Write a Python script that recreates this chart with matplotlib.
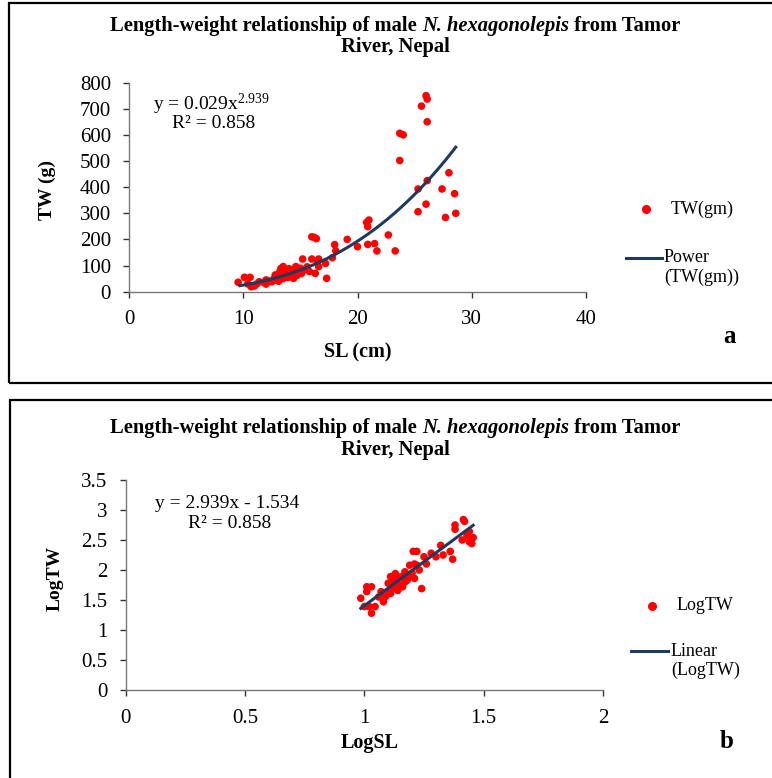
import numpy as np
import matplotlib
matplotlib.use("Agg")
import matplotlib.pyplot as plt
from matplotlib.lines import Line2D
from matplotlib.patches import Rectangle

# ---------------- data ----------------
sl_cm = [9.55, 10.1, 10.4, 10.6, 10.7, 11.0, 11.2, 11.4, 11.8, 12.0, 12.0, 12.3, 12.5, 12.7,
         12.8, 12.9, 13.0, 13.1, 13.2, 13.3, 13.4, 13.5, 13.5, 13.6, 13.7, 13.8, 13.9, 14.0,
         14.1, 14.2, 14.4, 14.5, 14.6, 14.7, 14.9, 15.0, 15.1, 15.2, 15.4, 15.6, 15.8, 16.0,
         16.0, 16.2, 16.3, 16.4, 16.5, 16.6, 16.6, 17.2, 17.3, 17.8, 18.0, 18.1, 19.1, 20.0,
         20.8, 20.9, 21.0, 20.9, 21.5, 21.7, 22.7, 23.3, 23.7, 23.7, 24.0, 25.3, 25.3, 26.0,
         26.1, 25.6, 26.0, 26.1, 26.1, 27.4, 27.7, 28.0, 28.5, 28.6]
tw_g = [36, 55, 30, 55, 19, 22, 30, 38, 35, 45, 29, 40, 38, 50,
        64, 45, 55, 40, 77, 89, 60, 96, 50, 83, 65, 70, 55, 88,
        57, 75, 51, 80, 96, 62, 70, 90, 70, 125, 85, 95, 77, 210,
        125, 208, 70, 203, 115, 125, 96, 108, 51, 130, 180, 156, 200, 172,
        265, 249, 274, 181, 184, 156, 217, 156, 502, 606, 600, 306, 393, 335,
        425, 710, 750, 737, 650, 393, 284, 455, 375, 300]

log_sl = [0.985, 1.00, 1.01, 1.01, 1.02, 1.03, 1.03, 1.045, 1.06, 1.07, 1.08, 1.09, 1.10,
          1.10, 1.11, 1.11, 1.12, 1.12, 1.13, 1.13, 1.135, 1.14, 1.15, 1.15, 1.16, 1.16,
          1.17, 1.17, 1.18, 1.18, 1.19, 1.19, 1.20, 1.205, 1.21, 1.21, 1.22, 1.22, 1.23,
          1.24, 1.25, 1.26, 1.28, 1.30, 1.32, 1.33, 1.36, 1.37, 1.38, 1.38, 1.41, 1.415,
          1.42, 1.43, 1.44, 1.44, 1.45, 1.456]
log_tw = [1.53, 1.39, 1.64, 1.72, 1.39, 1.72, 1.28, 1.39, 1.55, 1.64, 1.47, 1.56, 1.62,
          1.78, 1.61, 1.89, 1.70, 1.83, 1.94, 1.75, 1.83, 1.66, 1.75, 1.88, 1.89, 1.72,
          1.97, 1.80, 1.83, 1.92, 2.08, 1.90, 1.95, 2.31, 1.86, 2.10, 2.31, 2.08, 2.00,
          1.69, 2.22, 2.10, 2.28, 2.22, 2.41, 2.25, 2.31, 2.18, 2.75, 2.68, 2.50, 2.84,
          2.81, 2.58, 2.64, 2.47, 2.44, 2.54]

power_a, power_b = 0.029, 2.939
lin_slope, lin_int = 2.939, -1.534
r2 = 0.858

xticks_a = [0, 10, 20, 30, 40]
yticks_a = [0, 100, 200, 300, 400, 500, 600, 700, 800]
xticks_b = [0, 0.5, 1, 1.5, 2]
yticks_b = [0, 0.5, 1, 1.5, 2, 2.5, 3, 3.5]

# ---------------- style ----------------
W, H = 772, 778
plt.rcParams['font.family'] = ['Liberation Serif', 'DejaVu Serif']
plt.rcParams['mathtext.fontset'] = 'custom'
plt.rcParams['mathtext.rm'] = 'Liberation Serif'
plt.rcParams['mathtext.it'] = 'Liberation Serif:italic'
plt.rcParams['mathtext.bf'] = 'Liberation Serif:bold'

RED = '#ff0000'
NAVY = '#1f3a5f'
AXC = '#777777'

fig = plt.figure(figsize=(W / 100, H / 100), dpi=100)


def fx(px):
    return px / W


def fy(py):
    return 1 - py / H


def make_axes(l, t, r, b):
    ax = fig.add_axes([fx(l), fy(b), fx(r) - fx(l), fy(t) - fy(b)])
    for s in ['top', 'right']:
        ax.spines[s].set_visible(False)
    for s in ['left', 'bottom']:
        ax.spines[s].set_color(AXC)
        ax.spines[s].set_linewidth(1.0)
    ax.tick_params(axis='both', direction='out', length=4, width=1.0, color='#333333',
                   labelsize=15, labelcolor='black')
    ax.tick_params(axis='x', pad=9.5)
    ax.tick_params(axis='y', pad=9)
    ax.patch.set_alpha(0)
    return ax


def title(y1, y2):
    parts = [("Length-weight relationship of male ", 'normal'),
             ("N. hexagonolepis", 'italic'),
             (" from Tamor", 'normal')]
    texts = [fig.text(0, fy(y1), p, fontsize=14.8, fontweight='bold', fontstyle=st,
                      va='center', ha='left') for p, st in parts]
    fig.canvas.draw()
    r = fig.canvas.get_renderer()
    widths = [t.get_window_extent(r).width for t in texts]
    x = 395 - sum(widths) / 2
    for t, w in zip(texts, widths):
        t.set_x(fx(x))
        x += w
    fig.text(fx(395), fy(y2), "River, Nepal", fontsize=14.8, fontweight='bold',
             ha='center', va='center')


def legend(mx, my, lx0, lx1, ly, lab1, lab2a, lab2b, tx1, tx2):
    fig.add_artist(Line2D([fx(mx)], [fy(my)], marker='o', color=RED, markersize=5.5,
                          linestyle='none', transform=fig.transFigure))
    fig.text(fx(tx1), fy(my), lab1, fontsize=13, va='center', ha='left')
    fig.add_artist(Line2D([fx(lx0), fx(lx1)], [fy(ly), fy(ly)], color=NAVY, lw=2.2,
                          transform=fig.transFigure))
    fig.text(fx(tx2), fy(ly), lab2a, fontsize=13, va='center', ha='left')
    fig.text(fx(tx2), fy(ly + 19), lab2b, fontsize=13, va='center', ha='left')


# panel frames
fig.add_artist(Rectangle((fx(9), fy(383)), fx(800) - fx(9), fy(3) - fy(383),
                         transform=fig.transFigure, fill=False, ec='black', lw=1.6))
fig.add_artist(Rectangle((fx(10), fy(800)), fx(800) - fx(10), fy(400) - fy(800),
                         transform=fig.transFigure, fill=False, ec='black', lw=1.6))

# ---------------- panel a ----------------
ax1 = make_axes(129, 82.6, 586, 291.7)
ax1.scatter(sl_cm, tw_g, s=30, color=RED, edgecolors='none', zorder=3)
xa = np.linspace(min(sl_cm) + 0.15, max(sl_cm), 200)
ax1.plot(xa, power_a * xa ** power_b, color=NAVY, lw=2.2, zorder=4)
ax1.set_xlim(0, 40)
ax1.set_ylim(0, 800)
ax1.set_xticks(xticks_a)
ax1.set_yticks(yticks_a)
ax1.set_xticklabels([str(v) for v in xticks_a])
ax1.set_yticklabels([str(v) for v in yticks_a])

title(26, 47)
fig.text(fx(153), fy(104), r"y = 0.029x$^{2.939}$", fontsize=14, ha='left', va='center')
fig.text(fx(172), fy(124), "R\u00b2 = %.3f" % r2, fontsize=14, ha='left', va='center')
fig.text(fx(47), fy(190), "TW (g)", fontsize=14, fontweight='bold', rotation=90,
         ha='center', va='center')
fig.text(fx(358), fy(352), "SL (cm)", fontsize=14.5, fontweight='bold', ha='center', va='center')
fig.text(fx(729), fy(336), "a", fontsize=18, fontweight='bold', ha='center', va='center')
legend(646, 209, 626, 662, 258, "TW(gm)", "Power", "(TW(gm))", 671, 664)

# ---------------- panel b ----------------
ax2 = make_axes(125.7, 480, 603, 690)
ax2.scatter(log_sl, log_tw, s=30, color=RED, edgecolors='none', zorder=3)
xb = np.linspace(min(log_sl), max(log_sl), 50)
ax2.plot(xb, lin_slope * xb + lin_int, color=NAVY, lw=2.2, zorder=4)
ax2.set_xlim(0, 2)
ax2.set_ylim(0, 3.5)
ax2.set_xticks(xticks_b)
ax2.set_yticks(yticks_b)
ax2.set_xticklabels(['%g' % v for v in xticks_b])
ax2.set_yticklabels(['%g' % v for v in yticks_b])

title(428, 450)
fig.text(fx(155), fy(504), "y = 2.939x - 1.534", fontsize=14, ha='left', va='center')
fig.text(fx(188), fy(524), "R\u00b2 = %.3f" % r2, fontsize=14, ha='left', va='center')
fig.text(fx(55), fy(578), "LogTW", fontsize=14, fontweight='bold', rotation=90,
         ha='center', va='center')
fig.text(fx(370), fy(743), "LogSL", fontsize=14.5, fontweight='bold', ha='center', va='center')
fig.text(fx(727), fy(742), "b", fontsize=18, fontweight='bold', ha='center', va='center')
legend(652, 606, 631, 668, 651, "LogTW", "Linear", "(LogTW)", 677, 671)

fig.savefig("out.png", dpi=100)
